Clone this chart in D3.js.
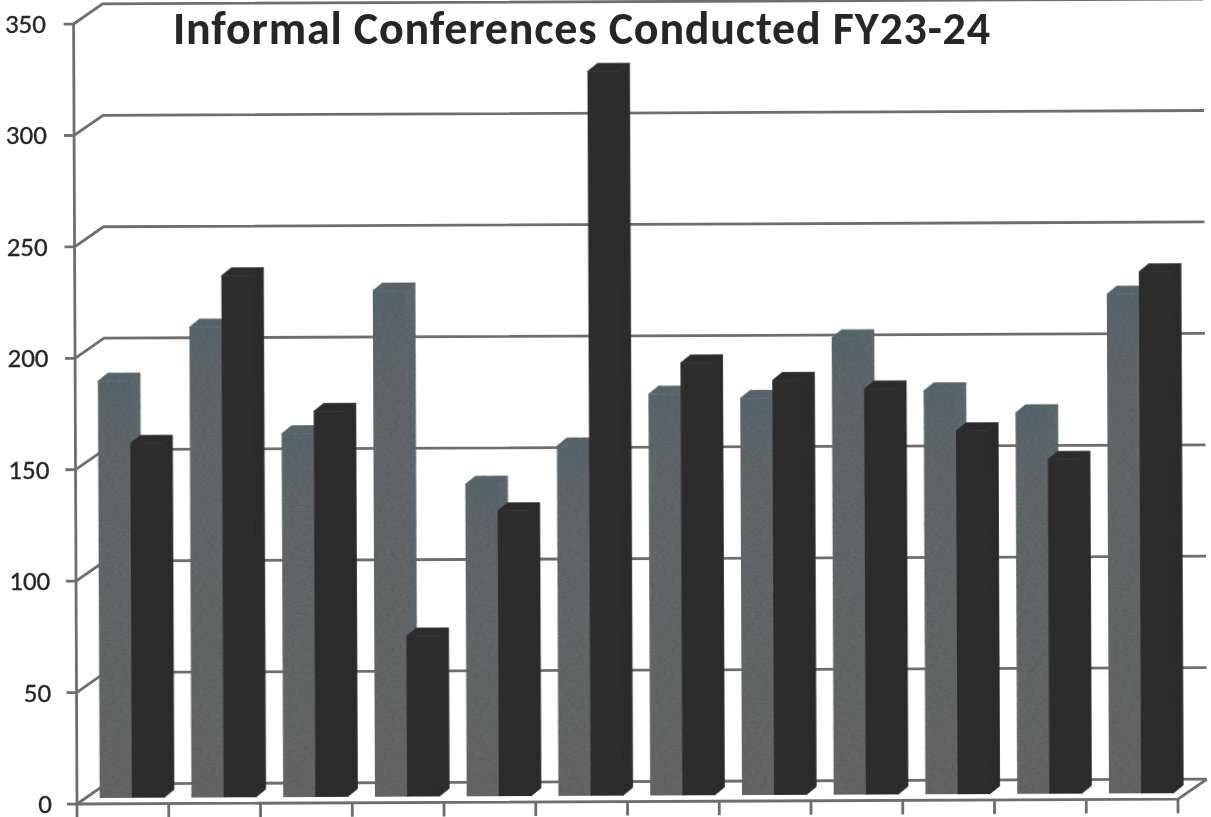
<!DOCTYPE html>
<html>
<head>
<meta charset="utf-8">
<script src="https://cdn.jsdelivr.net/npm/d3@7"></script>
<style>
body { margin: 0; background: #fff; }
svg { display: block; }
text { font-family: Carlito, "Open Sans", "Noto Sans", sans-serif; fill: #262626; }
</style>
</head>
<body>
<svg width="1211" height="817"></svg>
<script>
// values
const months = ['Jul', 'Aug', 'Sep', 'Oct', 'Nov', 'Dec', 'Jan', 'Feb', 'Mar', 'Apr', 'May', 'Jun'];
const fy23 = [187, 211, 163, 227, 140, 157, 180, 178, 205, 181, 171, 224];
const fy24 = [159, 234, 173, 72, 128, 325, 194, 186, 182, 163, 150, 234];
const yTicks = [0, 50, 100, 150, 200, 250, 300, 350];

const svg = d3.select('svg');
const depth = { x: 29, y: 20 };   // floor depth of the 3d box
const barDepth = { x: 10, y: 8 };
const barShift = { x: 9, y: 6 };  // bars stand a bit behind the front edge

const x = d3.scaleBand().domain(months).range([77, 1178]);
const y = d3.scaleLinear().domain([0, 350]).range([804, 24]);

// bars sit in their own band, inset from the category ticks
const xBar = d3.scaleBand().domain(months).range([77 + barShift.x, 1178 + barShift.x]).paddingInner(0.3).paddingOuter(0.15);
const xSeries = d3.scaleBand().domain(['fy23', 'fy24']).range([0, xBar.bandwidth()]);
const yBar = d3.scaleLinear().domain([0, 350]).range([804 - barShift.y, 24 - barShift.y]);

const defs = svg.append('defs');
const grad = defs.append('linearGradient').attr('id', 'lightFront').attr('x1', 0).attr('x2', 0).attr('y1', 0).attr('y2', 1);
grad.append('stop').attr('offset', 0).attr('stop-color', '#56676f');
grad.append('stop').attr('offset', 0.18).attr('stop-color', '#62686b');
grad.append('stop').attr('offset', 1).attr('stop-color', '#666666');

// scanner grain on the lighter bars
const grain = defs.append('filter').attr('id', 'grain').attr('x', 0).attr('y', 0).attr('width', 1).attr('height', 1);
grain.append('feTurbulence').attr('type', 'fractalNoise').attr('baseFrequency', '0.25 0.5').attr('numOctaves', 2).attr('seed', 4).attr('result', 'n');
grain.append('feColorMatrix').attr('in', 'n').attr('type', 'matrix')
  .attr('values', '0 0 0 0 0.1  0 0 0 0 0.1  0 0 0 0 0.1  1.6 0 0 0 -0.6').attr('result', 'g');
grain.append('feComposite').attr('in', 'g').attr('in2', 'SourceGraphic').attr('operator', 'in').attr('result', 'c');
const merge = grain.append('feMerge');
merge.append('feMergeNode').attr('in', 'SourceGraphic');
merge.append('feMergeNode').attr('in', 'c');

// whole chart leans a little, it was scanned crooked
const chart = svg.append('g').attr('transform', 'rotate(-0.25 77 804)');

// back wall gridlines
chart.append('g').selectAll('path').data(yTicks).join('path')
  .attr('d', d => `M${x.range()[0] - 10},${y(d)}H${x.range()[0]}L${x.range()[0] + depth.x},${y(d) - depth.y}H${x.range()[1] + depth.x}`)
  .attr('fill', 'none').attr('stroke', '#6e6e6e').attr('stroke-width', 2.8);

// floor
chart.append('path')
  .attr('d', `M${x.range()[0]},${y(0)}H${x.range()[1]}L${x.range()[1] + depth.x},${y(0) - depth.y}`)
  .attr('fill', 'none').attr('stroke', '#6e6e6e').attr('stroke-width', 2.8);

// axis lines and category ticks
chart.append('path')
  .attr('d', `M${x.range()[0]},${y(350)}V${y(0)}`)
  .attr('stroke', '#6e6e6e').attr('stroke-width', 2.8);
chart.append('g').selectAll('path').data(d3.range(13)).join('path')
  .attr('d', i => `M${x.range()[0] + i * x.step()},${y(0)}v14`)
  .attr('stroke', '#6e6e6e').attr('stroke-width', 2.8);

// one 3d bar: front, side and top faces
function drawBars(values, key, front, side, top, filter) {
  const g = chart.append('g').attr('filter', filter).selectAll('g').data(values).join('g')
    .attr('transform', (d, i) => `translate(${xBar(months[i]) + xSeries(key)},0)`);
  const w = xSeries.bandwidth();
  g.append('path').attr('fill', side).attr('stroke', side).attr('stroke-width', 0.8)
    .attr('d', d => `M${w},${yBar(d)}l${barDepth.x},${-barDepth.y}V${yBar(0) - barDepth.y}l${-barDepth.x},${barDepth.y}Z`);
  g.append('path').attr('fill', top).attr('stroke', top).attr('stroke-width', 0.8)
    .attr('d', d => `M0,${yBar(d)}l${barDepth.x},${-barDepth.y}h${w}l${-barDepth.x},${barDepth.y}Z`);
  g.append('rect').attr('fill', front)
    .attr('width', w + 0.5).attr('y', d => yBar(d)).attr('height', d => yBar(0) - yBar(d));
}
drawBars(fy23, 'fy23', 'url(#lightFront)', '#5c6a70', '#56676f', 'url(#grain)');
drawBars(fy24, 'fy24', '#2c2c2c', '#2b2b2b', '#2a2b2c', null);

// y labels stay level
svg.append('g').selectAll('text').data(yTicks).join('text')
  .attr('x', d => 52 - (804 - y(d)) * 0.0077)
  .attr('y', d => y(d) + 9)
  .attr('text-anchor', 'end').attr('font-size', 27)
  .attr('stroke', '#262626').attr('stroke-width', 0.3)
  .text(d => d);

svg.append('text').attr('x', 173).attr('y', 44)
  .attr('font-size', 46).attr('font-weight', 700)
  .attr('textLength', 817)
  .text('Informal Conferences Conducted FY23-24');
</script>
</body>
</html>
